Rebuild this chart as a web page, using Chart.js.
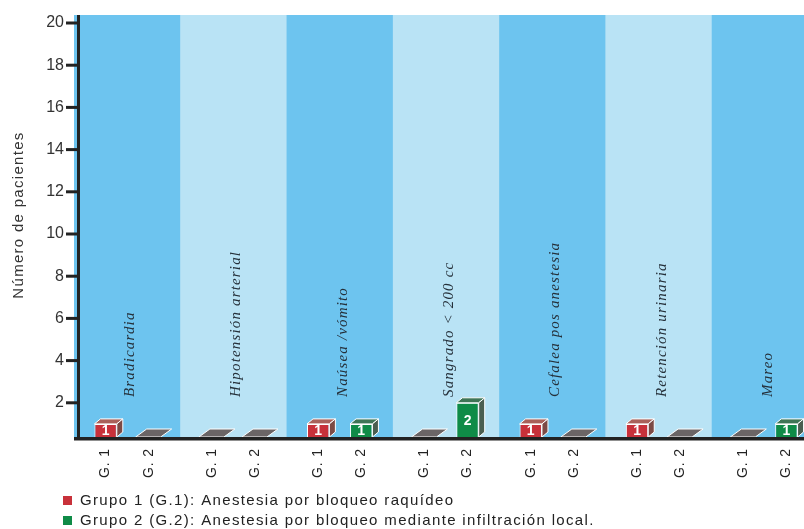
<!DOCTYPE html>
<html>
<head>
<meta charset="utf-8">
<script src="https://cdn.jsdelivr.net/npm/chart.js@4"></script>
<style>
  html, body { margin: 0; padding: 0; background: #fff; overflow: hidden; }
  #wrap { width: 818px; height: 529px; position: relative; }
</style>
</head>
<body>
<div id="wrap"><canvas id="chart"></canvas></div>
<script>
// ===== Data =====
const categories = ['Bradicardia', 'Hipotensión arterial', 'Naúsea /vómito', 'Sangrado < 200 cc',
  'Cefalea pos anestesia', 'Retención urinaria', 'Mareo'];
const grupo1 = [1, 0, 1, 0, 1, 1, 0];
const grupo2 = [0, 0, 1, 2, 0, 0, 1];
const groupLabels = ['G. 1', 'G. 2'];
const yTicks = [2, 4, 6, 8, 10, 12, 14, 16, 18, 20];
const yTitle = 'Número de pacientes';
const legendTexts = [
  'Grupo 1 (G.1): Anestesia por bloqueo raquídeo',
  'Grupo 2 (G.2): Anestesia por bloqueo mediante infiltración local.'
];

// ===== Colours =====
const bandDark = '#6DC4EF';
const bandLight = '#B9E3F5';
const barColors = [
  { front: '#C8313A', top: '#A9615A', side: '#7C4A45' },
  { front: '#0F8B47', top: '#3F7556', side: '#4A5E50' }
];
const flatGray = '#6B6566';

// draw text with letter spacing fitted to a target width
function fitText(ctx, text, x, y, width) {
  ctx.letterSpacing = '0px';
  const w = ctx.measureText(text).width;
  const sp = Math.max(0, (width - w) / Math.max(1, text.length - 1));
  ctx.letterSpacing = sp + 'px';
  ctx.fillText(text, x, y);
  ctx.letterSpacing = '0px';
  return sp;
}

// ===== 3D chart plugin =====
const decor = {
  id: 'decor',
  beforeDatasetsDraw(chart) {
    const { ctx, chartArea: a, scales: { x } } = chart;
    const floorY = a.bottom - 8;
    ctx.save();
    // bands
    const n = categories.length;
    const bw = (a.right - a.left) / n;
    for (let i = 0; i < n; i++) {
      ctx.fillStyle = i % 2 === 0 ? bandDark : bandLight;
      ctx.fillRect(a.left + i * bw, a.top - 8, bw + 0.5, floorY - a.top + 8);
    }
    // category labels
    ctx.fillStyle = '#25303a';
    ctx.font = 'italic 15px "Liberation Serif", "DejaVu Serif", serif';
    ctx.textBaseline = 'middle';
    ctx.textAlign = 'left';
    ctx.letterSpacing = '0px';
    const ref = ctx.measureText(categories[1]).width;
    const sp = Math.max(0, (145 - ref) / (categories[1].length - 1));
    ctx.letterSpacing = sp + 'px';
    categories.forEach((c, i) => {
      const cx = x.getPixelForValue(i) + 3;
      ctx.save();
      ctx.translate(cx, 397);
      ctx.rotate(-Math.PI / 2);
      ctx.fillText(c, 0, 0);
      ctx.restore();
    });
    ctx.letterSpacing = '0px';
    ctx.restore();
    // clip bar fronts at the floor
    ctx.save();
    ctx.beginPath();
    ctx.rect(0, 0, chart.width, floorY);
    ctx.clip();
  },
  afterDatasetsDraw(chart) {
    const { ctx, chartArea: a, scales: { y } } = chart;
    ctx.restore();
    const floorY = a.bottom - 8;
    const dx = 6, dy = 5;
    ctx.save();
    ctx.lineWidth = 1;
    ctx.strokeStyle = '#ffffff';
    chart.data.datasets.forEach((ds, di) => {
      const meta = chart.getDatasetMeta(di);
      meta.data.forEach((bar, i) => {
        const v = ds.data[i];
        const bx = bar.x, half = bar.width / 2;
        if (v === 0) {
          ctx.fillStyle = flatGray;
          ctx.beginPath();
          ctx.moveTo(bx - 13, floorY);
          ctx.lineTo(bx + 12, floorY);
          ctx.lineTo(bx + 23, floorY - 8);
          ctx.lineTo(bx - 2, floorY - 8);
          ctx.closePath();
          ctx.fill();
          ctx.stroke();
          return;
        }
        const c = barColors[di];
        const top = bar.y;
        // top face
        ctx.fillStyle = c.top;
        ctx.beginPath();
        ctx.moveTo(bx - half, top);
        ctx.lineTo(bx - half + dx, top - dy);
        ctx.lineTo(bx + half + dx, top - dy);
        ctx.lineTo(bx + half, top);
        ctx.closePath();
        ctx.fill();
        ctx.stroke();
        // side face
        ctx.fillStyle = c.side;
        ctx.beginPath();
        ctx.moveTo(bx + half, top);
        ctx.lineTo(bx + half + dx, top - dy);
        ctx.lineTo(bx + half + dx, floorY - dy);
        ctx.lineTo(bx + half, floorY);
        ctx.closePath();
        ctx.fill();
        ctx.stroke();
        // value
        ctx.fillStyle = '#ffffff';
        ctx.font = 'bold 14px "Liberation Sans", Arial, sans-serif';
        ctx.textAlign = 'center';
        ctx.textBaseline = 'middle';
        ctx.fillText(String(v), bx, (top + floorY) / 2 + 1);
      });
    });
    ctx.restore();

    ctx.save();
    ctx.fillStyle = '#222';
    // axes
    ctx.fillRect(77, a.top - 8, 3, floorY - a.top + 11);
    ctx.fillRect(74, floorY, chart.width - 74, 3.5);
    // tick marks
    yTicks.forEach(t => {
      const py = y.getPixelForValue(t);
      ctx.fillRect(66, py - 1.5, 12, 3);
    });
    // group labels under bars
    ctx.fillStyle = '#222';
    ctx.font = '14px "Liberation Sans", Arial, sans-serif';
    ctx.textAlign = 'center';
    ctx.textBaseline = 'middle';
    chart.data.datasets.forEach((ds, di) => {
      chart.getDatasetMeta(di).data.forEach(bar => {
        ctx.save();
        ctx.translate(bar.x, 463);
        ctx.rotate(-Math.PI / 2);
        fitText(ctx, groupLabels[di], 0, 0, 29);
        ctx.restore();
      });
    });
    // y title
    ctx.fillStyle = '#333';
    ctx.font = '15px "Liberation Sans", Arial, sans-serif';
    ctx.save();
    ctx.translate(19, 215);
    ctx.rotate(-Math.PI / 2);
    fitText(ctx, yTitle, 0, 0, 166);
    ctx.restore();
    // legend
    ctx.textAlign = 'left';
    ctx.font = '15px "Liberation Sans", Arial, sans-serif';
    ctx.letterSpacing = '0px';
    const lw = ctx.measureText(legendTexts[0]).width;
    const lsp = Math.max(0, (373 - lw) / (legendTexts[0].length - 1));
    legendTexts.forEach((t, i) => {
      const ly = 501 + i * 20;
      ctx.fillStyle = barColors[i].front;
      ctx.fillRect(63, ly - 5, 9, 9);
      ctx.fillStyle = '#222';
      ctx.letterSpacing = lsp + 'px';
      ctx.fillText(t, 80, ly);
      ctx.letterSpacing = '0px';
    });
    ctx.restore();
  }
};

// ===== Chart =====
const chart = new Chart(document.getElementById('chart'), {
  type: 'bar',
  data: {
    labels: categories,
    datasets: [
      { label: 'G. 1', data: grupo1, backgroundColor: barColors[0].front, borderColor: '#fff', borderWidth: 1 },
      { label: 'G. 2', data: grupo2, backgroundColor: barColors[1].front, borderColor: '#fff', borderWidth: 1 }
    ]
  },
  options: {
    responsive: true,
    maintainAspectRatio: false,
    animation: false,
    layout: { padding: { top: 23, bottom: 84, left: 0, right: 0 } },
    datasets: { bar: { categoryPercentage: 0.81, barPercentage: 0.52 } },
    plugins: { legend: { display: false }, tooltip: { enabled: false } },
    scales: {
      x: { display: false },
      y: {
        min: 0,
        max: 20,
        afterFit: s => { s.width = 74; },
        afterBuildTicks: s => { s.ticks = yTicks.map(v => ({ value: v })); },
        grid: { display: false, drawTicks: false },
        border: { display: false },
        ticks: {
          padding: 10,
          color: '#333',
          font: { family: '"Liberation Sans", Arial, sans-serif', size: 16 }
        }
      }
    }
  },
  plugins: [decor]
});
</script>
</body>
</html>
